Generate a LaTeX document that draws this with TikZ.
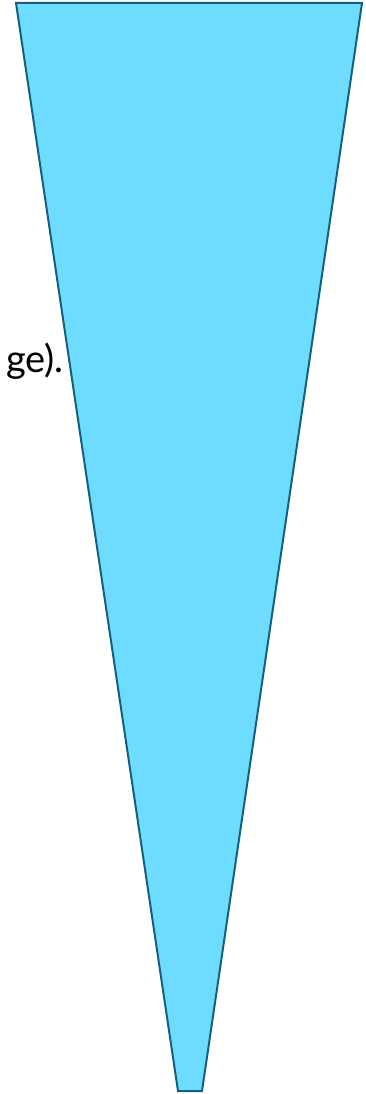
\documentclass[tikz,border=0pt]{standalone}
\usepackage{fontspec}
\setmainfont{Lato}
\begin{document}
\begin{tikzpicture}[x=1pt,y=-1pt,
  cone/.style={draw=conedraw, fill=conefill, line width=2pt, line join=miter},
  lbl/.style={font=\fontsize{38}{44}\selectfont, inner sep=0pt, text=black}]
\definecolor{conefill}{HTML}{6DDCFF}
\definecolor{conedraw}{HTML}{17607A}
\useasboundingbox (0,0) rectangle (366,1094);
\coordinate (tl) at (16,3);
\coordinate (tr) at (362,3);
\coordinate (br) at (202,1091);
\coordinate (bl) at (178,1091);
\draw[cone] (tl) -- (tr) -- (br) -- (bl) -- cycle;
\node[lbl, anchor=base east] (t) at (64,372) {ge).};
\end{tikzpicture}
\end{document}
